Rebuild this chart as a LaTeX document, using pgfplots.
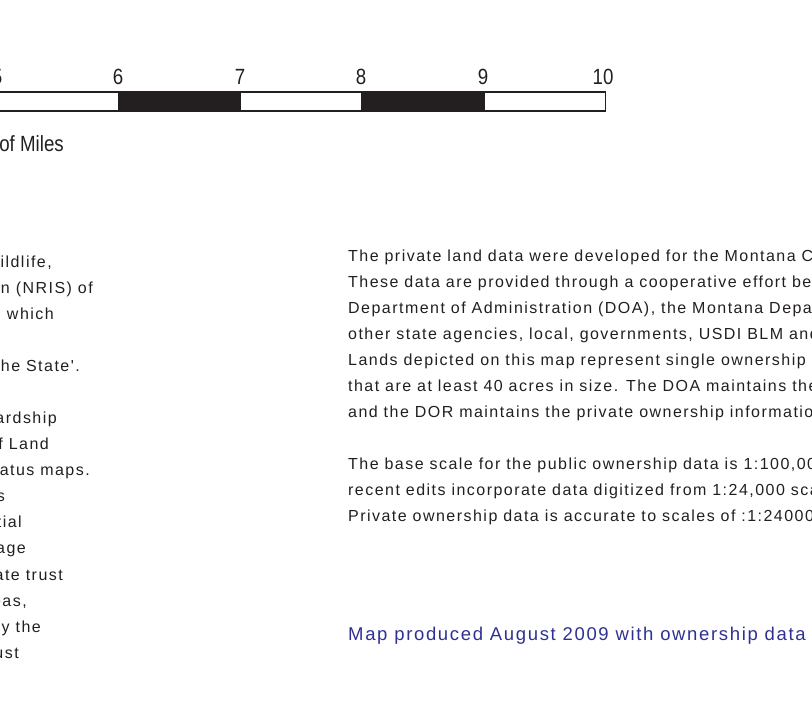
\documentclass[border=0pt]{standalone}
\usepackage{pgfplots}
\pgfplotsset{compat=1.18}
\usepackage{fontspec}
\setmainfont{Liberation Sans}
\newfontfamily\bodyfont[LetterSpace=9.2]{Liberation Sans}
\newfontfamily\bluefont[LetterSpace=9]{Liberation Sans}
\definecolor{ink}{RGB}{35,31,32}
\definecolor{mapblue}{RGB}{46,49,146}
\newcommand{\bt}{\fontsize{16}{16}\selectfont\bodyfont}
\newcommand{\bl}{\fontsize{18.5}{18.5}\selectfont\bluefont}
\newcommand{\nar}[1]{\scalebox{0.85}[1]{#1}}
\begin{document}
\begin{tikzpicture}
\begin{axis}[width=812pt,height=703pt,scale only axis,
  xmin=0,xmax=812,ymin=0,ymax=703,y dir=reverse,hide axis,clip=false]
% scale bar segments (pixel units)
\addplot[fill=white,draw=ink,line width=1.1pt] coordinates {(-20,92) (118.5,92) (118.5,111) (-20,111) (-20,92)};
\addplot[fill=ink,draw=ink,line width=1.1pt] coordinates {(118.5,92) (240.5,92) (240.5,111) (118.5,111) (118.5,92)};
\addplot[fill=white,draw=ink,line width=1.1pt] coordinates {(240.5,92) (362,92) (362,111) (240.5,111) (240.5,92)};
\addplot[fill=ink,draw=ink,line width=1.1pt] coordinates {(362,92) (484.5,92) (484.5,111) (362,111) (362,92)};
\addplot[fill=white,draw=ink,line width=1.1pt] coordinates {(484.5,92) (605.5,92) (605.5,111) (484.5,111) (484.5,92)};
% scale labels
\begin{scope}[every node/.style={inner sep=0pt,anchor=base,text=ink,font=\fontsize{22}{22}\selectfont}]
\node at (axis cs:-3,85) {\nar{5}};
\node at (axis cs:118,85) {\nar{6}};
\node at (axis cs:240,85) {\nar{7}};
\node at (axis cs:361,85) {\nar{8}};
\node at (axis cs:483,85) {\nar{9}};
\node at (axis cs:603,85) {\nar{10}};
\end{scope}
\node[inner sep=0pt,anchor=base east,text=ink,font=\fontsize{22}{22}\selectfont] at (axis cs:64,152) {\nar{Number of Miles}};
% left column (cut at the left edge)
\begin{scope}[every node/.style={inner sep=0pt,anchor=base east,text=ink,font=\bt}]
\node at (axis cs:52,268) {Wildlife,};
\node at (axis cs:93,294) {Information (NRIS) of};
\node at (axis cs:54,320) {managed, which};
\node at (axis cs:80,372) {the State'.};
\node at (axis cs:57,424) {Stewardship};
\node at (axis cs:49,450) {of Land};
\node at (axis cs:90,476) {Status maps.};
\node at (axis cs:5,502) {lands};
\node at (axis cs:22,528) {partial};
\node at (axis cs:26,554) {manage};
\node at (axis cs:63,580) {state trust};
\node at (axis cs:27,606) {areas,};
\node at (axis cs:41,632) {by the};
\node at (axis cs:19,658) {trust};
\end{scope}
% right column
\begin{scope}[every node/.style={inner sep=0pt,anchor=base west,text=ink,font=\bt}]
\node at (axis cs:348,262) {The private land data were developed for the Montana Cadastral};
\node at (axis cs:348,288) {These data are provided through a cooperative effort between};
\node at (axis cs:348,314) {Department of Administration (DOA), the Montana Department};
\node at (axis cs:348,340) {other state agencies, local, governments, USDI BLM and};
\node at (axis cs:348,366) {Lands depicted on this map represent single ownership parcels};
\node at (axis cs:348,392) {that are at least 40 acres in size. The DOA maintains the};
\node at (axis cs:348,418) {and the DOR maintains the private ownership information.};
\node at (axis cs:348,470) {The base scale for the public ownership data is 1:100,000};
\node at (axis cs:348,496) {recent edits incorporate data digitized from 1:24,000 scale};
\node at (axis cs:348,522) {Private ownership data is accurate to scales of :1:24000};
\end{scope}
\node[inner sep=0pt,anchor=base west,text=mapblue,font=\bl] at (axis cs:348,640) {Map produced August 2009 with ownership data from};
\end{axis}
\pgfresetboundingbox
\path[use as bounding box] (current axis.south west) rectangle (current axis.north east);
\end{tikzpicture}
\end{document}
